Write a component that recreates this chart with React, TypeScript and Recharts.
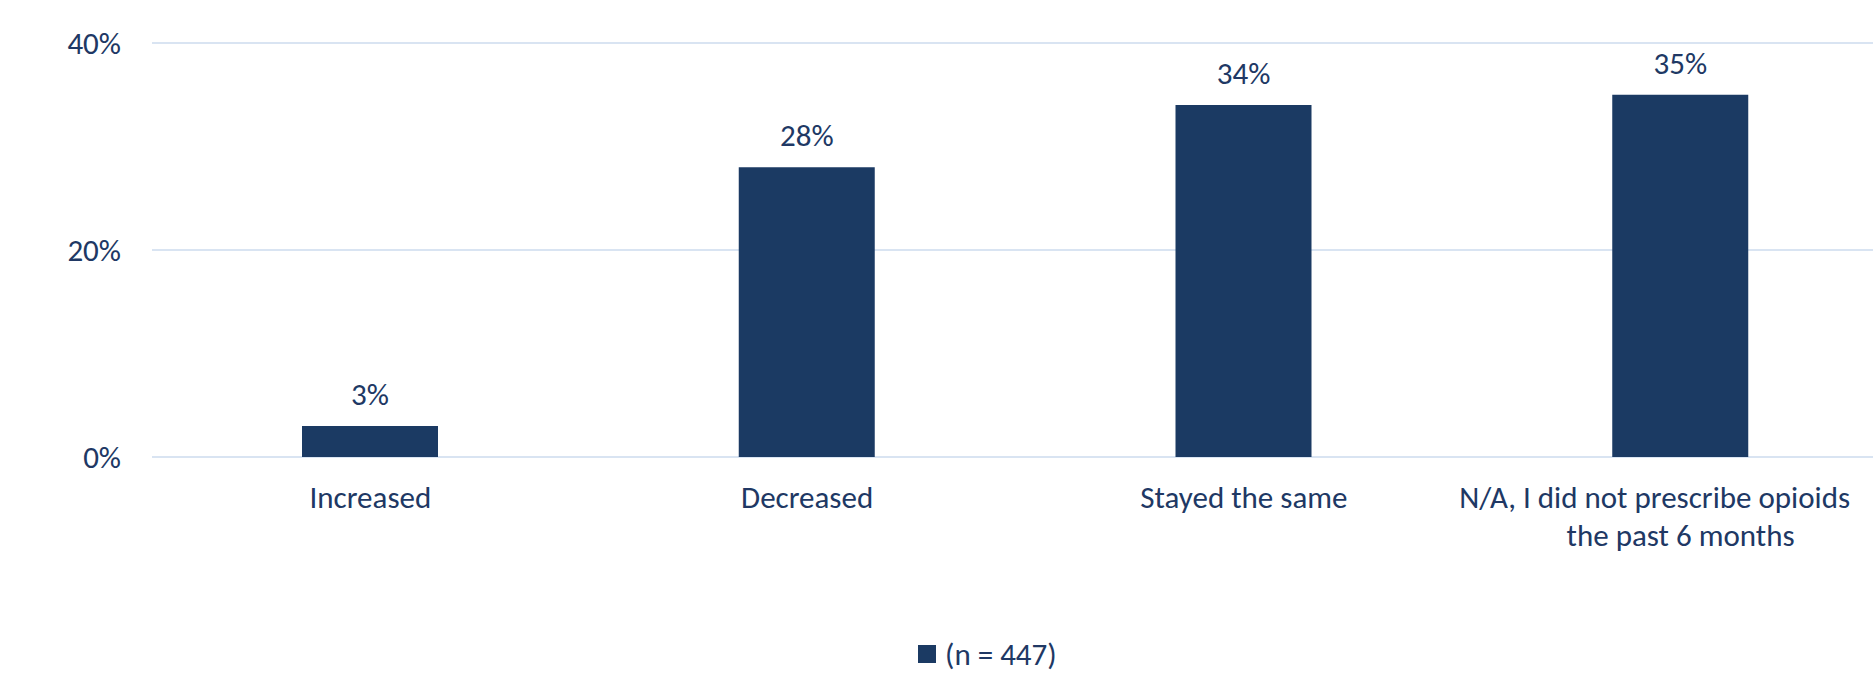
import { BarChart, Bar, XAxis, YAxis, CartesianGrid, Legend, LabelList } from 'recharts'

const categories = ['Increased', 'Decreased', 'Stayed the same', 'N/A, I did not prescribe opioids the past 6 months']
const tickLines: string[][] = [
  ['Increased'],
  ['Decreased'],
  ['Stayed the same'],
  ['N/A, I did not prescribe opioids', 'the past 6 months'],
]
const values = [3, 28, 34, 35]
const yTicks = [0, 20, 40]
const seriesName = '(n = 447)'

const NAVY = '#1b3a63'
const TEXT = '#203864'
const GRID = '#d9e4f2'
const FONT = 31

const data = categories.map((c, i) => ({ categoria: c, valor: values[i], lineas: tickLines[i] }))

interface TickProps {
  x?: number
  y?: number
  payload?: { value: string; index: number }
}

const CategoryTick = ({ x = 0, y = 0, payload }: TickProps) => {
  const idx = payload ? categories.indexOf(payload.value) : -1
  const lines = idx >= 0 ? tickLines[idx] : [String(payload?.value ?? '')]
  return (
    <text x={x} y={y} textAnchor="middle" fill={TEXT} fontSize={FONT}>
      {lines.map((l, i) => (
        // la primera línea larga queda corrida a la izquierda, como en el original
        <tspan key={i} x={x + (lines.length > 1 && i === 0 ? -26 : 0)} y={y + 51 + i * 38}>
          {l}
        </tspan>
      ))}
    </text>
  )
}

const LegendContent = () => (
  <div style={{ display: 'flex', alignItems: 'center', gap: 9, color: TEXT, fontSize: FONT, lineHeight: '36px' }}>
    <span style={{ width: 18, height: 18, background: NAVY, display: 'inline-block' }} />
    <span>{seriesName}</span>
  </div>
)

export default function App() {
  return (
    <div
      style={{
        position: 'absolute',
        left: 0,
        top: 0,
        width: 1873,
        height: 687,
        overflow: 'hidden',
        background: '#ffffff',
        fontFamily: 'Carlito, Lato, sans-serif',
      }}
    >
      <BarChart width={1920} height={687} data={data} margin={{ top: 43, right: 21, left: 0, bottom: 0 }}>
        <CartesianGrid vertical={false} stroke={GRID} strokeWidth={2} />
        <XAxis
          dataKey="categoria"
          height={230}
          axisLine={false}
          tickLine={false}
          tickSize={0}
          tickMargin={0}
          interval={0}
          tick={<CategoryTick />}
        />
        <YAxis
          width={152}
          domain={[0, 40]}
          ticks={yTicks}
          axisLine={false}
          tickLine={false}
          tickSize={0}
          tickMargin={31}
          tick={{ fill: TEXT, fontSize: FONT }}
          tickFormatter={(v: number) => `${v}%`}
        />
        <Legend
          verticalAlign="middle"
          align="center"
          layout="horizontal"
          content={<LegendContent />}
          wrapperStyle={{ top: 636, left: 918, width: 300, height: 36 }}
        />
        <Bar dataKey="valor" name={seriesName} fill={NAVY} barSize={136} isAnimationActive={false}>
          <LabelList
            dataKey="valor"
            position="top"
            offset={21}
            fill={TEXT}
            fontSize={FONT}
            formatter={(v: number) => `${v}%`}
          />
        </Bar>
      </BarChart>
    </div>
  )
}
